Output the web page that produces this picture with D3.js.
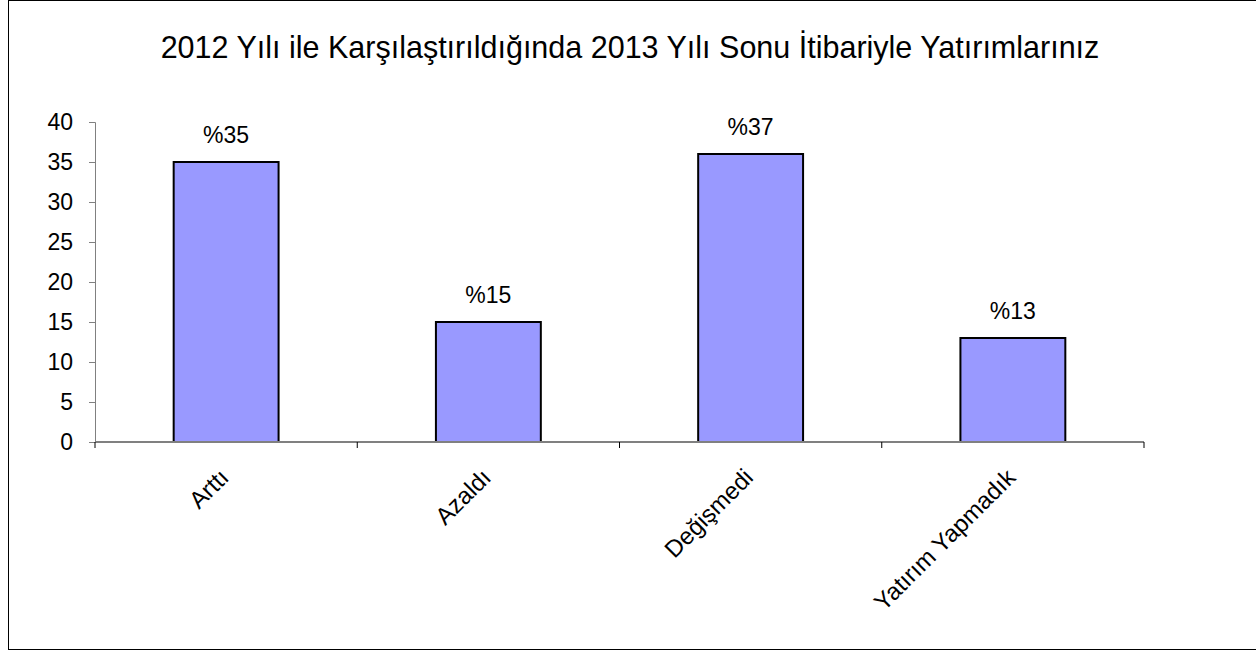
<!DOCTYPE html>
<html>
<head>
<meta charset="utf-8">
<script src="https://cdn.jsdelivr.net/npm/d3@7"></script>
<style>
  body { margin: 0; background: #fff; }
  svg text { font-family: "Liberation Sans", Arial, sans-serif; fill: #000; }
</style>
</head>
<body>
<div id="chart"></div>
<script>
const categories = ['Arttı', 'Azaldı', 'Değişmedi', 'Yatırım Yapmadık'];
const values = [35, 15, 36, 13];
const valueLabels = ['%35', '%15', '%37', '%13'];
const yTicks = [0, 5, 10, 15, 20, 25, 30, 35, 40];
const chartTitle = '2012 Yılı ile Karşılaştırıldığında 2013 Yılı Sonu İtibariyle Yatırımlarınız';

const W = 1256, H = 653;
const margin = { top: 122, right: 112, bottom: 211, left: 95 };
const width = W - margin.left - margin.right;
const height = H - margin.top - margin.bottom;

const svg = d3.select('#chart').append('svg')
  .attr('width', W)
  .attr('height', H);

// outer frame
svg.append('rect')
  .attr('x', 8.5).attr('y', 0.5)
  .attr('width', W - 8).attr('height', 649)
  .attr('fill', 'none')
  .attr('stroke', '#000')
  .attr('stroke-width', 1);

svg.append('text')
  .attr('x', 630)
  .attr('y', 58)
  .attr('text-anchor', 'middle')
  .attr('font-size', '30.5px')
  .text(chartTitle);

const g = svg.append('g').attr('transform', `translate(${margin.left},${margin.top})`);

const x = d3.scaleBand()
  .domain(categories)
  .range([0, width])
  .paddingInner(0.6)
  .paddingOuter(0.3);

// full-width bands for ticks and category labels
const xb = d3.scaleBand().domain(categories).range([0, width]);

const y = d3.scaleLinear()
  .domain([0, 40])
  .range([height, 0]);

// y axis
const yAxis = g.append('g')
  .call(d3.axisLeft(y).tickValues(yTicks).tickSize(6).tickPadding(16));
yAxis.selectAll('path, line').attr('stroke', '#808080');
yAxis.selectAll('text').attr('font-size', '23px').attr('fill', '#000');

// bars
g.selectAll('.bar')
  .data(categories)
  .enter()
  .append('rect')
  .attr('class', 'bar')
  .attr('x', d => x(d))
  .attr('width', x.bandwidth())
  .attr('y', (d, i) => y(values[i]))
  .attr('height', (d, i) => height - y(values[i]))
  .attr('fill', '#9999FF')
  .attr('stroke', '#000')
  .attr('stroke-width', 2);

// value labels
g.selectAll('.label')
  .data(categories)
  .enter()
  .append('text')
  .attr('x', d => x(d) + x.bandwidth() / 2)
  .attr('y', (d, i) => y(values[i]) - 19)
  .attr('text-anchor', 'middle')
  .attr('font-size', '23px')
  .text((d, i) => valueLabels[i]);

// x axis with ticks at band edges
const xAxis = g.append('g').attr('transform', `translate(0,${height})`);
xAxis.append('line')
  .attr('x1', 0).attr('x2', width)
  .attr('stroke', '#808080').attr('stroke-width', 2);
const edges = categories.map(d => xb(d)).concat([width]);
xAxis.selectAll('.tick')
  .data(edges)
  .enter()
  .append('line')
  .attr('x1', d => d).attr('x2', d => d)
  .attr('y1', 0).attr('y2', 6)
  .attr('stroke', '#000');

xAxis.selectAll('.cat')
  .data(categories)
  .enter()
  .append('text')
  .attr('text-anchor', 'end')
  .attr('font-size', '24px')
  .attr('transform', d => `translate(${xb(d) + xb.bandwidth() / 2 + 4},${37}) rotate(-45)`)
  .text(d => d);
</script>
</body>
</html>
